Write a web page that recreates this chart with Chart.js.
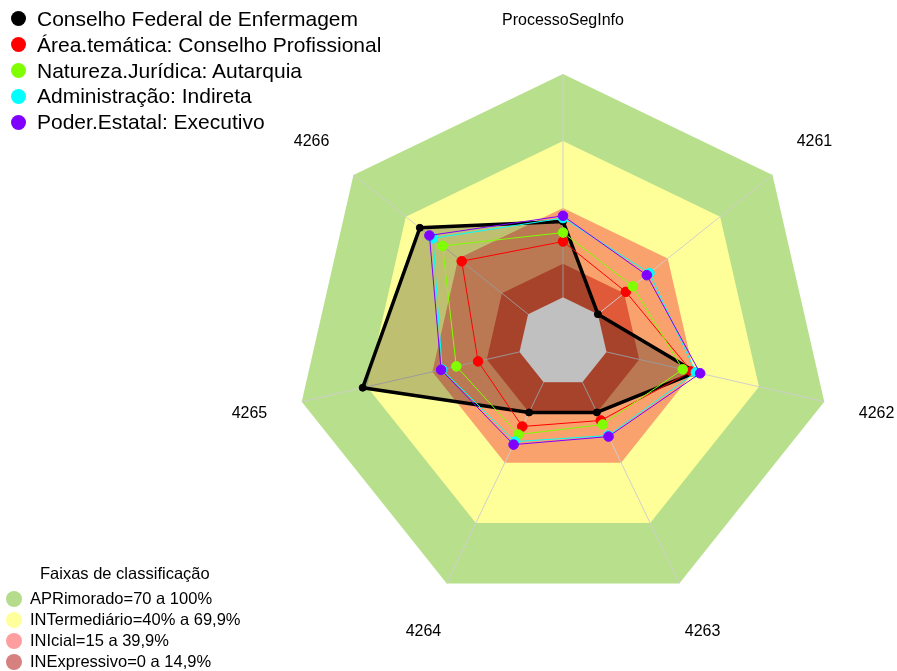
<!DOCTYPE html>
<html lang="pt-BR">
<head>
<meta charset="utf-8">
<title>ProcessoSegInfo</title>
<script src="https://cdn.jsdelivr.net/npm/chart.js@4.4.1/dist/chart.umd.min.js"></script>
<style>
  html, body { margin: 0; padding: 0; background: #fff; }
  #wrap { position: relative; width: 897px; height: 671px; font-family: "Liberation Sans", Arial, sans-serif; color: #000; }
  #radar { position: absolute; left: 0; top: 0; }
  .legend { position: absolute; margin: 0; padding: 0; list-style: none; }
  .legend li { position: relative; white-space: nowrap; }
  .legend .dot { position: absolute; border-radius: 50%; }
  #seriesLegend { left: 0; top: 6px; font-size: 21px; }
  #seriesLegend li { height: 25.8px; line-height: 25.8px; padding-left: 37px; }
  #seriesLegend .dot { left: 10.5px; top: 5.4px; width: 15px; height: 15px; }
  #bandTitle { position: absolute; left: 40px; top: 563px; font-size: 16.5px; line-height: 20px; }
  #bandLegend { left: 0; top: 588px; font-size: 16.5px; }
  #bandLegend li { height: 21px; line-height: 21px; padding-left: 30px; }
  #bandLegend .dot { left: 6px; top: 2.5px; width: 16px; height: 16px; }
</style>
</head>
<body>
<div id="wrap">
  <canvas id="radar" width="897" height="671"></canvas>
  <ul class="legend" id="seriesLegend"></ul>
  <div id="bandTitle">Faixas de classificação</div>
  <ul class="legend" id="bandLegend"></ul>
</div>
<script>
// axes of the radar, clockwise from the top
const axisLabels = ['ProcessoSegInfo', '4261', '4262', '4263', '4264', '4265', '4266']

// percentage per axis for each group
const conselhoFederal = [34, 0, 41, 15, 15, 72, 62]
const areaTematica = [25, 16, 39, 19, 22, 19, 38]
const naturezaJuridica = [29, 20, 35, 21, 26, 29, 49]
const administracao = [35.5, 29.5, 41, 26.5, 29.5, 35.5, 54.5]
const poderEstatal = [36.5, 28, 43, 27, 31, 36, 56.5]

const seriesNames = [
  'Conselho Federal de Enfermagem',
  'Área.temática: Conselho Profissional',
  'Natureza.Jurídica: Autarquia',
  'Administração: Indireta',
  'Poder.Estatal: Executivo'
]
const seriesColors = ['#000000', '#FF0000', '#80FF00', '#00FFFF', '#8000FF']

// classification bands (upper limit of each one)
const bandNames = ['APRimorado=70 a 100%', 'INTermediário=40% a 69,9%', 'INIcial=15 a 39,9%', 'INExpressivo=0 a 14,9%']
const bandLimits = [100, 70, 40, 15]
const bandColors = ['#B8E08C', '#FFFF99', '#F9A26E', '#E05A3A']
const bandLegendColors = ['#B5DC8C', '#FFFF9C', '#FF9E9E', '#D68080']

// the scale starts below zero so the middle stays empty
const scaleMin = -20
const scaleMax = 100
const labelValue = 124

const fillSeries = [conselhoFederal, areaTematica, naturezaJuridica, administracao, poderEstatal]

const bandDatasets = bandLimits.map((limit, i) => ({
  label: bandNames[i],
  data: axisLabels.map(() => limit),
  backgroundColor: bandColors[i],
  borderWidth: 0,
  pointRadius: 0,
  fill: 'start',
  order: 20 - i
}))

const holeDataset = {
  label: 'hole',
  data: axisLabels.map(() => 0),
  backgroundColor: '#C0C0C0',
  borderWidth: 0,
  pointRadius: 0,
  fill: 'start',
  order: 15,
  isHole: true
}

// first group is shaded down to the zero ring, the others are just outlines
const seriesDatasets = fillSeries.map((values, i) => ({
  label: seriesNames[i],
  data: values,
  borderColor: seriesColors[i],
  backgroundColor: i === 0 ? 'rgba(0,0,0,0.25)' : 'transparent',
  pointBackgroundColor: seriesColors[i],
  pointBorderColor: seriesColors[i],
  borderWidth: i === 0 ? 3.5 : 1,
  borderJoinStyle: 'round',
  pointRadius: i === 0 ? 3.5 : 4.8,
  pointBorderWidth: 1,
  fill: i === 0 ? 'origin' : false,
  order: 10 - i
}))

// spokes go over the bands but under the groups
const spokes = {
  id: 'spokes',
  afterDatasetDraw(chart, args) {
    if (!chart.data.datasets[args.index].isHole) return
    const scale = chart.scales.r
    const ctx = chart.ctx
    ctx.save()
    ctx.strokeStyle = 'rgba(205,205,205,0.95)'
    ctx.lineWidth = 1
    axisLabels.forEach((_, i) => {
      const a = scale.getPointPositionForValue(i, 0)
      const b = scale.getPointPositionForValue(i, scaleMax)
      ctx.beginPath()
      ctx.moveTo(a.x, a.y)
      ctx.lineTo(b.x, b.y)
      ctx.stroke()
    })
    ctx.restore()
  }
}

// axis names centred just outside the outer band
const axisNames = {
  id: 'axisNames',
  afterDraw(chart) {
    const scale = chart.scales.r
    const ctx = chart.ctx
    ctx.save()
    ctx.font = '16px "Liberation Sans", Arial, sans-serif'
    ctx.fillStyle = '#000'
    ctx.textAlign = 'center'
    ctx.textBaseline = 'middle'
    axisLabels.forEach((name, i) => {
      const p = scale.getPointPositionForValue(i, labelValue)
      ctx.fillText(name, p.x, p.y)
    })
    ctx.restore()
  }
}

new Chart(document.querySelector('#radar'), {
  type: 'radar',
  data: {
    labels: axisLabels,
    datasets: [...seriesDatasets, holeDataset, ...bandDatasets]
  },
  options: {
    responsive: false,
    animation: false,
    devicePixelRatio: 1,
    events: [],
    layout: { padding: { left: 295, right: 66, top: 74, bottom: 61 } },
    elements: { line: { tension: 0 } },
    scales: {
      r: {
        min: scaleMin,
        max: scaleMax,
        ticks: { display: false, stepSize: 20 },
        grid: { display: false },
        angleLines: { display: false },
        pointLabels: { display: false }
      }
    },
    plugins: {
      legend: { display: false },
      tooltip: { enabled: false },
      filler: { propagate: false }
    }
  },
  plugins: [spokes, axisNames]
})

// legends
const seriesLegend = document.querySelector('#seriesLegend')
seriesNames.forEach((name, i) => {
  const li = document.createElement('li')
  li.innerHTML = '<span class="dot" style="background:' + seriesColors[i] + '"></span>' + name
  seriesLegend.appendChild(li)
})
const bandLegend = document.querySelector('#bandLegend')
bandNames.forEach((name, i) => {
  const li = document.createElement('li')
  li.innerHTML = '<span class="dot" style="background:' + bandLegendColors[i] + '"></span>' + name
  bandLegend.appendChild(li)
})
</script>
</body>
</html>
